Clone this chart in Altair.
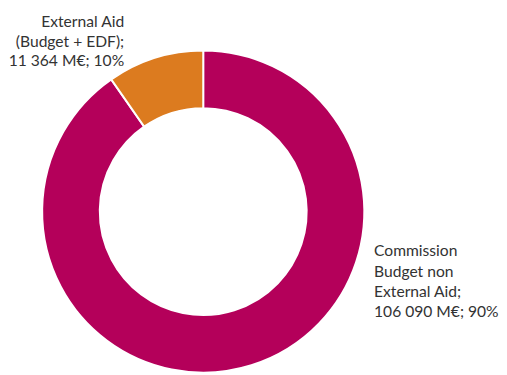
import altair as alt
import pandas as pd

categories = ["Commission Budget non External Aid", "External Aid (Budget + EDF)"]
values = [106090, 11364]
colors = ["#B4005A", "#DC7B1F"]
label_texts = [
    "Commission\nBudget non\nExternal Aid;\n106 090 M€; 90%",
    "External Aid\n(Budget + EDF);\n11 364 M€; 10%",
]

df = pd.DataFrame({"category": categories, "value": values, "order": [0, 1]})

arc = alt.Chart(df).mark_arc(
    innerRadius=106, outerRadius=165, stroke="white", strokeWidth=2
).encode(
    theta=alt.Theta("value:Q", stack=True),
    order=alt.Order("order:Q"),
    color=alt.Color("category:N", scale=alt.Scale(domain=categories, range=colors), legend=None),
    x=alt.value(195),
    y=alt.value(204),
)

font = "Lato"
right_label = alt.Chart(pd.DataFrame({"t": [label_texts[0]]})).mark_text(
    align="left", baseline="alphabetic", lineBreak="\n", font=font, fontSize=16,
    lineHeight=20.7, color="#333333"
).encode(text="t:N", x=alt.value(370), y=alt.value(250))

left_label = alt.Chart(pd.DataFrame({"t": [label_texts[1]]})).mark_text(
    align="right", baseline="alphabetic", lineBreak="\n", font=font, fontSize=16,
    lineHeight=20, color="#333333"
).encode(text="t:N", x=alt.value(114), y=alt.value(15))

chart = alt.layer(arc, right_label, left_label).properties(
    width=491, height=355, padding=0
).configure_view(stroke=None)

chart.save("out.html", embed_options={"renderer": "svg", "actions": False})
